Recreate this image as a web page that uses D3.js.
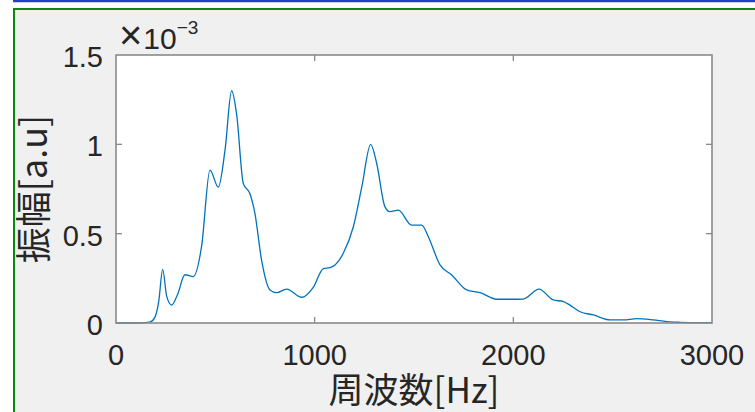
<!DOCTYPE html>
<html>
<head>
<meta charset="utf-8">
<script src="https://cdn.jsdelivr.net/npm/d3@7"></script>
<style>
  html, body { margin: 0; padding: 0; background: #ffffff; }
  svg { display: block; }
</style>
</head>
<body>
<svg id="chart" width="755" height="412"></svg>
<script>
// Spectrum samples: frequency [Hz] and amplitude [x10^-3 a.u.]
const freq = [0, 100, 170, 195, 215, 235, 255, 280, 310, 347, 389, 431, 473, 515, 549, 582,
  607, 641, 674, 699, 733, 775, 809, 859, 935, 993, 1044, 1077, 1102, 1144, 1195, 1237,
  1282, 1312, 1354, 1379, 1421, 1488, 1539, 1572, 1631, 1690, 1765, 1832, 1916, 1983,
  2050, 2129, 2201, 2252, 2285, 2336, 2403, 2487, 2554, 2621, 2705, 2772, 2839, 2920, 3000];
const amp = [0, 0, 0.005, 0.03, 0.12, 0.30, 0.15, 0.10, 0.16, 0.27, 0.26, 0.43, 0.856, 0.76, 0.97, 1.30,
  1.17, 0.78, 0.725, 0.615, 0.35, 0.185, 0.17, 0.19, 0.144, 0.20, 0.305, 0.31, 0.325, 0.39, 0.54, 0.76,
  1.00, 0.894, 0.65, 0.623, 0.632, 0.548, 0.548, 0.483, 0.325, 0.269, 0.185, 0.17, 0.133, 0.133,
  0.134, 0.19, 0.129, 0.12, 0.10, 0.063, 0.045, 0.017, 0.017, 0.024, 0.017, 0.008, 0.004, 0.002, 0.002];

const xTicks = [0, 1000, 2000, 3000];
const yTicks = [0, 0.5, 1, 1.5];
const yTickLabels = ["0", "0.5", "1", "1.5"];
const xTitle = "周波数[Hz]";
const yTitle = "振幅[a.u]";

const svg = d3.select("#chart");
const W = 755, H = 412;
const plot = { left: 116, top: 55, right: 712, bottom: 323 };

// Figure frame: blue strip at top, green panel border, grey panel fill
svg.append("line").attr("x1", 13).attr("x2", W).attr("y1", 1).attr("y2", 1)
  .attr("stroke", "#2440c4").attr("stroke-width", 2.5);
svg.append("rect").attr("x", 14).attr("y", 9).attr("width", W - 14).attr("height", H - 9)
  .attr("fill", "#f0f0f0");
svg.append("path").attr("d", `M14,${H} V9 H${W}`)
  .attr("fill", "none").attr("stroke", "#0a8a0a").attr("stroke-width", 2);

const x = d3.scaleLinear().domain([0, 3000]).range([plot.left, plot.right]);
const y = d3.scaleLinear().domain([0, 1.5]).range([plot.bottom, plot.top]);

// Axes background
svg.append("rect").attr("x", plot.left).attr("y", plot.top)
  .attr("width", plot.right - plot.left).attr("height", plot.bottom - plot.top)
  .attr("fill", "#ffffff");

// Spectrum line
const pts = freq.map((f, i) => [f, amp[i]]);
const line = d3.line().x(d => x(d[0])).y(d => y(d[1])).curve(d3.curveMonotoneX);
svg.append("path").datum(pts).attr("d", line)
  .attr("fill", "none").attr("stroke", "#0072bd").attr("stroke-width", 1.3);

const axisColor = "#8a8a8a";
const textColor = "#262626";
const font = "'Liberation Sans', Arial, sans-serif";
const cjk = "'Noto Sans CJK JP', 'Noto Sans CJK SC', sans-serif";
const tickLen = 6;

// Inward ticks on all four sides
const tg = svg.append("g").attr("stroke", axisColor).attr("stroke-width", 1.3);
xTicks.slice(1, -1).forEach(t => {
  tg.append("line").attr("x1", x(t)).attr("x2", x(t)).attr("y1", plot.bottom).attr("y2", plot.bottom - tickLen);
  tg.append("line").attr("x1", x(t)).attr("x2", x(t)).attr("y1", plot.top).attr("y2", plot.top + tickLen);
});
yTicks.slice(1, -1).forEach(t => {
  tg.append("line").attr("x1", plot.left).attr("x2", plot.left + tickLen).attr("y1", y(t)).attr("y2", y(t));
  tg.append("line").attr("x1", plot.right).attr("x2", plot.right - tickLen).attr("y1", y(t)).attr("y2", y(t));
});

// Box
svg.append("rect").attr("x", plot.left).attr("y", plot.top)
  .attr("width", plot.right - plot.left).attr("height", plot.bottom - plot.top)
  .attr("fill", "none").attr("stroke", axisColor).attr("stroke-width", 1.6);

// Tick labels
svg.append("g").selectAll("text").data(xTicks).join("text")
  .attr("x", d => x(d)).attr("y", plot.bottom + 42)
  .attr("text-anchor", "middle").attr("font-family", font).attr("font-size", 29)
  .attr("fill", textColor).text(d => String(d));
svg.append("g").selectAll("text").data(yTicks).join("text")
  .attr("x", plot.left - 13).attr("y", d => y(d) + 12)
  .attr("text-anchor", "end").attr("font-family", font).attr("font-size", 29)
  .attr("fill", textColor).text((d, i) => yTickLabels[i]);

// Exponent multiplier
const mult = svg.append("text").attr("x", 119).attr("y", 49)
  .attr("font-family", font).attr("fill", textColor);
mult.append("tspan").attr("font-size", 40).attr("dy", 0).text("×");
mult.append("tspan").attr("font-size", 30).attr("dx", 1).text("10");
mult.append("tspan").attr("dy", -15).attr("font-size", 19).text("−3");

// Axis titles
svg.append("text").attr("x", (plot.left + plot.right) / 2).attr("y", 403)
  .attr("text-anchor", "middle").attr("font-family", cjk).attr("font-size", 35)
  .attr("fill", textColor).text(xTitle);
svg.append("text").attr("transform", `translate(47,${(plot.top + plot.bottom) / 2}) rotate(-90)`)
  .attr("text-anchor", "middle").attr("font-family", cjk).attr("font-size", 36)
  .attr("fill", textColor).text(yTitle);
</script>
</body>
</html>
